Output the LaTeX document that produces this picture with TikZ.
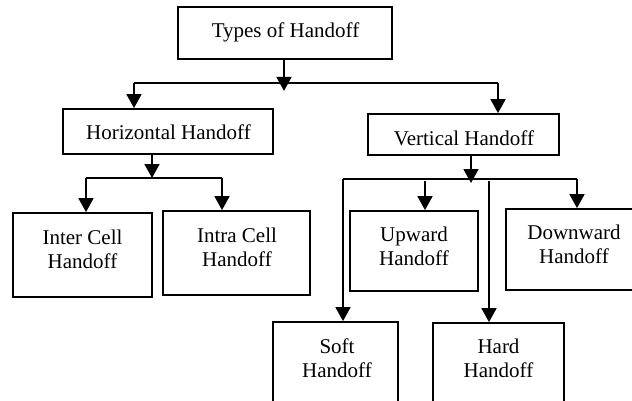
\documentclass[tikz,border=0pt]{standalone}
\usepackage{fontspec}
\setmainfont{Liberation Serif}
\usetikzlibrary{arrows.meta}
\begin{document}
\begin{tikzpicture}[x=1pt,y=-1pt,
  box/.style={draw, line width=1.8pt, rectangle, inner sep=0pt},
  txt/.style={inner sep=0pt, align=center, anchor=base,
    font=\fontsize{21}{24}\selectfont},
  link/.style={line width=1.8pt},
  arr/.style={line width=1.8pt, -{Triangle[length=14pt,width=15pt]}}]
\useasboundingbox (0,0) rectangle (632,400);
\clip (0,0) rectangle (632,400);

% boxes
\node[box, minimum width=214pt, minimum height=52pt] (types) at (285,33) {};
\node[box, minimum width=210pt, minimum height=45pt] (hh) at (168,131.5) {};
\node[box, minimum width=191pt, minimum height=41pt] (vh) at (463.5,134.5) {};
\node[box, minimum width=139pt, minimum height=84pt] (inter) at (82.5,255) {};
\node[box, minimum width=147pt, minimum height=84pt] (intra) at (236.5,253) {};
\node[box, minimum width=128pt, minimum height=80pt] (up) at (414,251) {};
\node[box, minimum width=136pt, minimum height=81pt] (down) at (574,249.5) {};
\node[box, minimum width=125pt, minimum height=98pt] (soft) at (335.5,371) {};
\node[box, minimum width=131pt, minimum height=97pt] (hard) at (498.5,371.5) {};

% labels (base anchor sits on the last line's baseline)
\node[txt] (ttypes) at (285.5,37) {Types of Handoff};
\node[txt] (thh) at (168.5,139) {Horizontal Handoff};
\node[txt] (tvh) at (464,145) {Vertical Handoff};
\node[txt] (tinter) at (82.5,268) {Inter Cell\\Handoff};
\node[txt] (tintra) at (237,266) {Intra Cell\\Handoff};
\node[txt] (tup) at (414,265) {Upward\\Handoff};
\node[txt] (tdown) at (574,263) {Downward\\Handoff};
\node[txt] (tsoft) at (337,377) {Soft\\Handoff};
\node[txt] (thard) at (498.5,377) {Hard\\Handoff};

% first level
\coordinate (j1) at (284,83);
\coordinate (hL) at (134,83);
\coordinate (vR) at (498,83);
\draw[arr] (types.south -| j1) -- ++(0,31);
\draw[link] (hL) -- (vR);
\draw[arr] (hL) -- (hL |- hh.north);
\draw[arr] (vR) -- (vR |- vh.north);

% horizontal handoff branch
\coordinate (j2) at (152,178);
\coordinate (iL) at (86,178);
\coordinate (iR) at (222,178);
\draw[arr] (hh.south -| j2) -- (j2);
\draw[link] (iL) -- (iR);
\draw[arr] (iL) -- (iL |- inter.north);
\draw[arr] (iR) -- (iR |- intra.north);

% vertical handoff branch
\coordinate (j3) at (471,183);
\coordinate (sL) at (343,179);
\coordinate (dR) at (577,179);
\coordinate (uT) at (425,181);
\coordinate (hT) at (489,181);
\draw[arr] (vh.south -| j3) -- (j3);
\draw[link] (sL) -- (dR);
\draw[arr] (sL) -- (sL |- soft.north);
\draw[arr] (uT) -- (uT |- up.north);
\draw[arr] (hT) -- (hT |- hard.north);
\draw[arr] (dR) -- (dR |- down.north);
\end{tikzpicture}
\end{document}
